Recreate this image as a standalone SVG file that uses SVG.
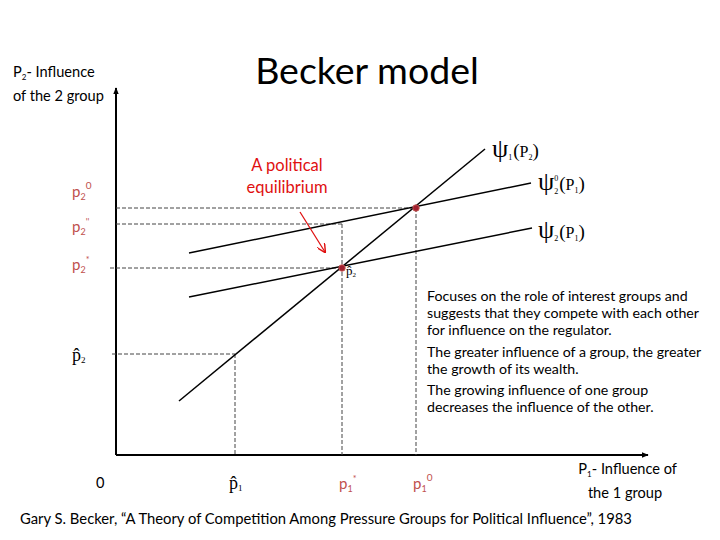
<svg xmlns="http://www.w3.org/2000/svg" width="720" height="540" viewBox="0 0 720 540">
<defs>
<marker id="ah" viewBox="0 0 10 10" refX="9" refY="5" markerWidth="7" markerHeight="7" orient="auto" markerUnits="userSpaceOnUse"><path d="M0,1 L10,5 L0,9 z" fill="#000"/></marker>
<marker id="rh" viewBox="0 0 10 10" refX="9" refY="5" markerWidth="9" markerHeight="9" orient="auto" markerUnits="userSpaceOnUse"><path d="M0,0 L10,5 L0,10" fill="none" stroke="#e01010" stroke-width="1.6"/></marker>
<style>
.s{font-family:Lato,"Liberation Sans",sans-serif;fill:#000}
.r{font-family:Lato,"Liberation Sans",sans-serif;fill:#c0504d}
.sf{font-family:"Liberation Serif","DejaVu Serif",serif;fill:#000}
.dash{stroke:#444;stroke-width:1;stroke-dasharray:4,2;fill:none}
.ln{stroke:#000;stroke-width:1.5;fill:none}
.dot{fill:#a02030;stroke:#c0504d;stroke-width:1}
</style>
</defs>
<rect width="720" height="540" fill="#fff"/>
<text class="s" x="367" y="84" font-size="37.5" text-anchor="middle">Becker model</text>

<g id="axes">
<line x1="116" y1="455" x2="116" y2="88" stroke="#000" stroke-width="2" marker-end="url(#ah)"/>
<line x1="116" y1="455" x2="648" y2="455" stroke="#000" stroke-width="2" marker-end="url(#ah)"/>
</g>

<g id="connectors">
<line class="dash" x1="116" y1="208" x2="416" y2="208"/>
<line class="dash" x1="416" y1="208" x2="416" y2="455"/>
<line class="dash" x1="116" y1="224" x2="342" y2="224"/>
<line class="dash" x1="342" y1="224" x2="342" y2="455"/>
<line class="dash" x1="110" y1="268" x2="342" y2="268"/>
<line class="dash" x1="112" y1="354" x2="235" y2="354"/>
<line class="dash" x1="235" y1="354" x2="235" y2="455"/>
<line class="ln" x1="179" y1="401" x2="485" y2="149" stroke-width="2"/>
<line class="ln" x1="189" y1="253" x2="531" y2="183"/>
<line class="ln" x1="189" y1="297" x2="532" y2="228"/>
<line x1="300" y1="212" x2="325" y2="252" stroke="#e01010" stroke-width="1.3" marker-end="url(#rh)"/>
</g>

<g id="points">
<circle class="dot" cx="416" cy="208" r="3.2"/>
<circle class="dot" cx="342" cy="268" r="3.2"/>
</g>

<g id="yaxis-label">
<text class="s" x="13" y="77" font-size="14.6">P<tspan font-size="8" dy="3">2</tspan><tspan dy="-3">- Influence</tspan></text>
<text class="s" x="13" y="101" font-size="14.6">of the 2 group</text>
</g>
<g id="xaxis-label">
<text class="s" x="677" y="474" font-size="14.6" text-anchor="end">P<tspan font-size="8" dy="3">1</tspan><tspan dy="-3">- Influence of</tspan></text>
<text class="s" x="625" y="498" font-size="14.6" text-anchor="middle">the 1 group</text>
</g>

<g id="curve-labels">
<text class="sf" x="492" y="157" font-size="26">ψ<tspan font-size="8" dy="3">1</tspan><tspan dx="1" dy="-3" font-size="19">(</tspan><tspan font-size="16">P</tspan><tspan font-size="8" dy="3">2</tspan><tspan dy="-3" font-size="19">)</tspan></text>
<text class="sf" x="538" y="190" font-size="26">ψ<tspan font-size="8" dy="4">2</tspan><tspan font-size="8" dx="-4" dy="-13">0</tspan><tspan dx="1" dy="9" font-size="19">(</tspan><tspan font-size="16">P</tspan><tspan font-size="8" dy="3">1</tspan><tspan dy="-3" font-size="19">)</tspan></text>
<text class="sf" x="538" y="238" font-size="26">ψ<tspan font-size="8" dy="3">2</tspan><tspan dx="1" dy="-3" font-size="19">(</tspan><tspan font-size="16">P</tspan><tspan font-size="8" dy="3">1</tspan><tspan dy="-3" font-size="19">)</tspan></text>
</g>

<g id="equilibrium-label">
<text x="287" y="171" font-size="16.5" text-anchor="middle" style="font-family:Lato,'Liberation Sans',sans-serif;fill:#e01010">A political</text>
<text x="287" y="193" font-size="16.5" text-anchor="middle" style="font-family:Lato,'Liberation Sans',sans-serif;fill:#e01010">equilibrium</text>
</g>

<g id="y-ticks">
<text class="r" x="72" y="197" font-size="15">p<tspan font-size="9" dy="3">2</tspan><tspan font-size="10" dy="-11">0</tspan></text>
<text class="r" x="72" y="232" font-size="15">p<tspan font-size="9" dy="3">2</tspan><tspan font-size="9" dy="-10">''</tspan></text>
<text class="r" x="72" y="270" font-size="15">p<tspan font-size="9" dy="3">2</tspan><tspan font-size="9" dy="-10">*</tspan></text>
<text class="sf" x="72" y="361" font-size="18">p̂<tspan font-size="9" dy="2">2</tspan></text>
<text class="sf" x="346" y="275" font-size="13">p̂<tspan font-size="7" dy="2">2</tspan></text>
</g>

<g id="x-ticks">
<text class="s" x="96" y="488" font-size="14.6">0</text>
<text class="sf" x="229" y="489" font-size="18">p̂<tspan font-size="9" dy="2">1</tspan></text>
<text class="r" x="339" y="489" font-size="15">p<tspan font-size="9" dy="3">1</tspan><tspan font-size="9" dy="-10">*</tspan></text>
<text class="r" x="413" y="489" font-size="15">p<tspan font-size="9" dy="3">1</tspan><tspan font-size="10" dy="-11">0</tspan></text>
</g>

<g id="description">
<text class="s" font-size="14.2"><tspan x="427" y="301">Focuses on the role of interest groups and</tspan><tspan x="427" y="318">suggests that they compete with each other</tspan><tspan x="427" y="335">for influence on the regulator.</tspan><tspan x="427" y="357">The greater influence of a group, the greater</tspan><tspan x="427" y="374">the growth of its wealth.</tspan><tspan x="427" y="395">The growing influence of one group</tspan><tspan x="427" y="412">decreases the influence of the other.</tspan></text>
</g>

<text class="s" x="20" y="524" font-size="14.8">Gary S. Becker, “A Theory of Competition Among Pressure Groups for Political Influence”, 1983</text>
</svg>
